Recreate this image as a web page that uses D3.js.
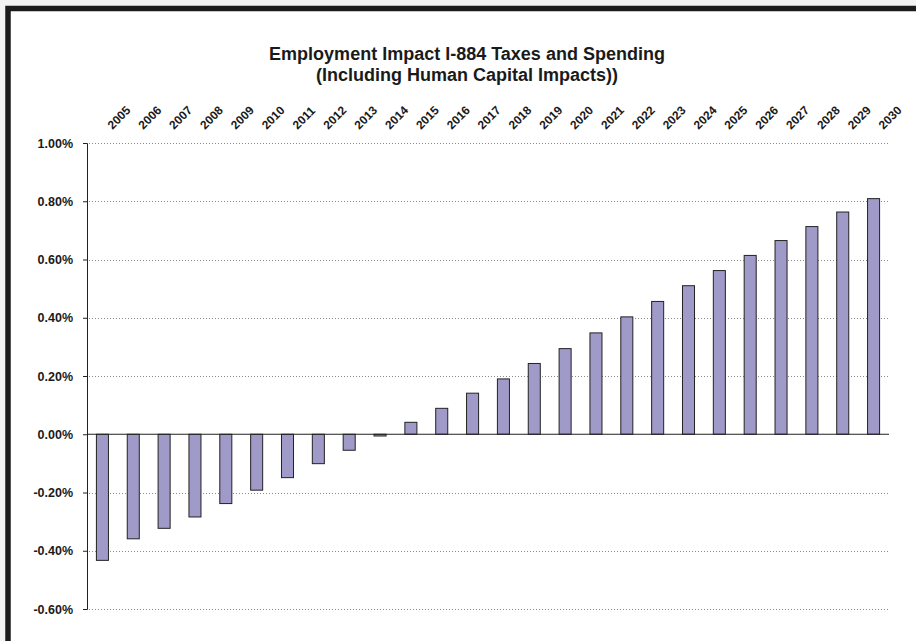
<html>
   <head>
      <meta charset="UTF-8">
      <title>Employment Impact I-884</title>
      <script src="https://d3js.org/d3.v7.min.js"></script>
      <style>
         body{
         margin:0;
         background:#f2f3f2;
         overflow:hidden;
         }
         svg{
         display:block;
         }
         text{
         font-family:"Liberation Sans", Arial, sans-serif;
         font-weight:bold;
         fill:#1a1a1a;
         }
      </style>
   </head>
   <body>
      <svg width="916" height="641"></svg>
      <script type="text/javascript">
         // data (percent)
         var years = ["2005","2006","2007","2008","2009","2010","2011","2012","2013","2014","2015","2016","2017",
                      "2018","2019","2020","2021","2022","2023","2024","2025","2026","2027","2028","2029","2030"];
         var impact = [-0.433,-0.359,-0.323,-0.284,-0.238,-0.192,-0.149,-0.101,-0.055,-0.006,0.041,0.089,0.141,
                       0.190,0.243,0.294,0.348,0.403,0.456,0.510,0.562,0.614,0.665,0.713,0.763,0.809];
         var yTicks = [-0.6,-0.4,-0.2,0,0.2,0.4,0.6,0.8,1.0];
         var titleLines = ["Employment Impact I-884 Taxes and Spending","(Including Human Capital Impacts))"];

         var margin={
         top:143,
         bottom:609,
         left:87,
         right:889
         }

         var svg = d3.select("svg");

         // frame (only top and left edges fall inside the picture)
         svg.append("rect")
            .attr("x",8)
            .attr("y",8.5)
            .attr("width",1000)
            .attr("height",800)
            .attr("fill","white")
            .attr("stroke","#1c1c1c")
            .attr("stroke-width",5.5);

         var xScale = d3.scaleBand()
               .domain(years)
               .range([margin.left,margin.right])
               .paddingInner(0.61)
               .paddingOuter(0.305);
         var yScale = d3.scaleLinear()
               .domain([-0.6,1.0])
               .range([margin.bottom,margin.top]);

         // title
         svg.append("g").selectAll("text")
            .data(titleLines)
            .enter()
            .append("text")
            .attr("x",467)
            .attr("y",function(d,i){ return 60+i*21; })
            .attr("text-anchor","middle")
            .style("font-size","18px")
            .text(function(d){ return d; });

         // dotted grid
         svg.append("g").selectAll("line")
            .data(yTicks.filter(function(d){ return d!=0; }))
            .enter()
            .append("line")
            .attr("x1",margin.left+2)
            .attr("x2",margin.right)
            .attr("y1",function(d){ return Math.round(yScale(d))+0.5; })
            .attr("y2",function(d){ return Math.round(yScale(d))+0.5; })
            .attr("stroke","#8a8a8a")
            .attr("stroke-width",1)
            .attr("stroke-dasharray","1,2");

         // bars
         svg.append("g").selectAll("rect")
            .data(impact)
            .enter()
            .append("rect")
            .attr("x",function(d,i){ return xScale(years[i]); })
            .attr("y",function(d){ return yScale(Math.max(0,d)); })
            .attr("width",xScale.bandwidth())
            .attr("height",function(d){ return Math.abs(yScale(d)-yScale(0)); })
            .attr("fill","#a09ac9")
            .attr("stroke","#222")
            .attr("stroke-width",1);

         // zero line
         svg.append("line")
            .attr("x1",margin.left)
            .attr("x2",margin.right)
            .attr("y1",yScale(0))
            .attr("y2",yScale(0))
            .attr("stroke","#222")
            .attr("stroke-width",1.2);

         // y axis
         var yAxis = d3.axisLeft(yScale)
               .tickValues(yTicks)
               .tickSize(4)
               .tickPadding(10)
               .tickFormat(function(d){ return d.toFixed(2)+"%"; });

         var ya = svg.append("g")
            .attr("transform","translate("+margin.left+",0)")
            .call(yAxis);
         ya.select(".domain").attr("stroke","#222");
         ya.selectAll(".tick line").attr("stroke","#222");
         ya.selectAll("text")
           .style("font-size","12.5px")
           .style("font-family","'Liberation Sans', Arial, sans-serif")
           .style("font-weight","bold")
           .attr("fill","#1a1a1a");

         // year labels on top, slanted
         svg.append("g").selectAll("text")
            .data(years)
            .enter()
            .append("text")
            .attr("transform",function(d){
               return "translate("+(xScale(d)+xScale.bandwidth()/2+10)+",130) rotate(-45)";
            })
            .style("font-size","12px")
            .text(function(d){ return d; });
      </script>
   </body>
</html>
